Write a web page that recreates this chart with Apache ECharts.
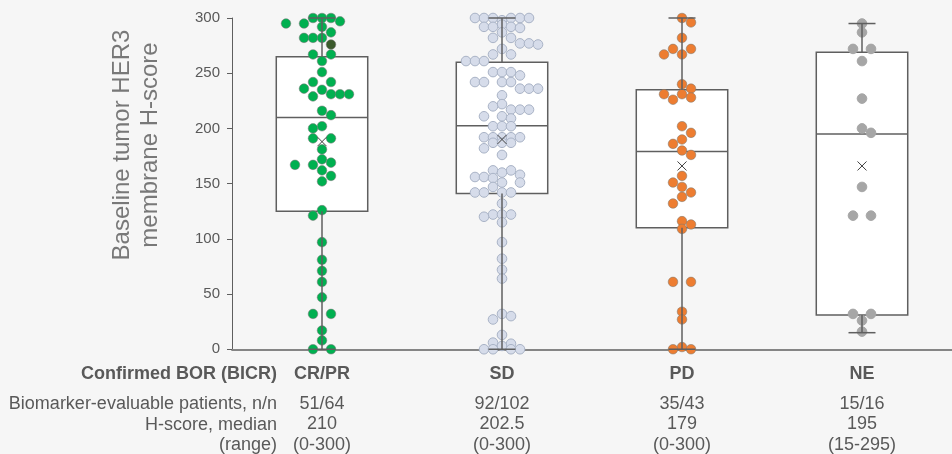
<!DOCTYPE html>
<html><head><meta charset="utf-8">
<script src="https://cdn.jsdelivr.net/npm/echarts@6/dist/echarts.min.js"></script>
<style>html,body{margin:0;padding:0;background:#f6f6f6}#c{width:952px;height:454px}</style>
</head><body><div id="c"></div>
<script>
// ---------------- data ----------------
const categories = ['CR/PR', 'SD', 'PD', 'NE'];
const rowHeaders = ['Confirmed BOR (BICR)', 'Biomarker-evaluable patients, n/n', 'H-score, median', '(range)'];
const evaluable = ['51/64', '92/102', '35/43', '15/16'];
const medianText = ['210', '202.5', '179', '195'];
const rangeText = ['(0-300)', '(0-300)', '(0-300)', '(15-295)'];
const yTicks = [0, 50, 100, 150, 200, 250, 300];
// [min, Q1, median, Q3, max]
const boxCRPR = [0, 125, 210, 265, 300];
const boxSD = [0, 141, 202.5, 260, 300];
const boxPD = [0, 110, 179, 235, 300];
const boxNE = [15, 31, 195, 269, 295];
const means = [188, 190, 166, 166];

const crprValues = [300,300,300,297,295,295,292,287,282,282,282,276,267,267,261,251,242,242,236,235,231,231,231,229,216,212,202,200,191,191,181,172,169,167,167,162,157,152,126,121,97,81,71,61,47,32,32,17,8,0,0];
const crprHighlight = [276];
const sdValues = [300,300,300,300,300,300,298,294,292,292,292,291,287,282,282,277,277,276,272,267,267,261,261,261,251,251,251,248,242,242,242,242,236,236,236,230,222,220,217,217,217,211,211,209,202,202,202,192,192,192,192,192,187,187,187,182,176,162,162,160,158,156,156,155,151,151,147,142,142,142,142,132,122,122,122,120,115,97,82,72,64,32,30,27,13,6,5,3,0,0,0,0];
const pdValues = [300,296,282,272,272,267,267,240,236,231,231,228,226,202,196,190,186,180,176,157,151,147,142,138,132,116,113,109,61,61,34,27,2,0,0];
const neValues = [295,287,272,272,261,227,200,196,147,121,121,32,32,26,16];

// ---------------- styling ----------------
const FONT = "'Liberation Sans', Arial, sans-serif";
const TXT = '#595959';
const LINE = '#5f5f5f';
const fills = ['#00b050', '#d6dcea', '#ed7d31', '#a6a6a6'];
const strokes = ['rgba(120,120,120,0.55)', '#a9b3c6', 'rgba(130,120,110,0.55)', '#a6a6a6'];
const highlightFill = '#3b5a2c';
const SLOT = 9, R = 4.8;

const boxes = [boxCRPR, boxSD, boxPD, boxNE];
const groups = [crprValues, sdValues, pdValues, neValues];

const chart = echarts.init(document.getElementById('c'));

function boxRender(params, api) {
  const i = api.value(0);
  const band = api.size([1, 0])[0];
  const hw = band * 0.254;
  const c = v => api.coord([i, v]);
  const cx = c(api.value(3))[0];
  const yq1 = c(api.value(2))[1], yq3 = c(api.value(4))[1], ym = c(api.value(3))[1];
  return { type: 'group', children: [
    { type: 'rect', shape: { x: cx - hw, y: yq3, width: 2 * hw, height: yq1 - yq3 },
      style: { fill: '#ffffff', stroke: LINE, lineWidth: 1.5 } },
    { type: 'line', shape: { x1: cx - hw, y1: ym, x2: cx + hw, y2: ym },
      style: { stroke: LINE, lineWidth: 1.5 } }
  ]};
}
function whiskerRender(params, api) {
  const i = api.value(0);
  const band = api.size([1, 0])[0];
  const cap = band * 0.075;
  const c = v => api.coord([i, v]);
  const cx = c(api.value(3))[0];
  const ymin = c(api.value(1))[1], yq1 = c(api.value(2))[1], yq3 = c(api.value(4))[1], ymax = c(api.value(5))[1];
  const ymean = c(api.value(6))[1];
  const s = { stroke: LINE, lineWidth: 1.5 };
  const xs = 4.5;
  return { type: 'group', children: [
    { type: 'line', shape: { x1: cx, y1: yq3, x2: cx, y2: ymax }, style: s },
    { type: 'line', shape: { x1: cx - cap, y1: ymax, x2: cx + cap, y2: ymax }, style: s },
    { type: 'line', shape: { x1: cx, y1: yq1, x2: cx, y2: ymin }, style: s },
    { type: 'line', shape: { x1: cx - cap, y1: ymin, x2: cx + cap, y2: ymin }, style: s },
    { type: 'line', shape: { x1: cx - xs, y1: ymean - xs, x2: cx + xs, y2: ymean + xs }, style: { stroke: '#404040', lineWidth: 1 } },
    { type: 'line', shape: { x1: cx - xs, y1: ymean + xs, x2: cx + xs, y2: ymean - xs }, style: { stroke: '#404040', lineWidth: 1 } }
  ]};
}
function pointRender(params, api) {
  const g = api.value(0);
  const p = api.coord([g, api.value(1)]);
  const hl = api.value(3);
  return { type: 'circle', shape: { cx: p[0] + api.value(2) * SLOT, cy: p[1], r: R },
    style: { fill: hl ? highlightFill : fills[g], stroke: strokes[g], lineWidth: 1 } };
}

const boxData = boxes.map((b, i) => [i].concat(b).concat([means[i]]));

const option = {
  backgroundColor: '#f6f6f6',
  animation: false,
  grid: { left: 232, right: -6, top: 18, bottom: 104 },
  xAxis: {
    type: 'category', data: categories, boundaryGap: true,
    axisLine: { lineStyle: { color: '#858585', width: 1.8 } },
    axisTick: { alignWithLabel: true, length: 4, lineStyle: { color: LINE } },
    axisLabel: {
      margin: 4.5, interval: 0,
      formatter: (v, i) => `{b|${v}}\n{v|${evaluable[i]}}\n{v|${medianText[i]}}\n{v|${rangeText[i]}}`,
      rich: {
        b: { fontFamily: FONT, fontWeight: 'bold', fontSize: 18, lineHeight: 40, color: TXT },
        v: { fontFamily: FONT, fontSize: 18, lineHeight: 20.5, color: TXT }
      }
    },
    splitLine: { show: false }
  },
  yAxis: {
    type: 'value', min: yTicks[0], max: yTicks[yTicks.length - 1], interval: yTicks[1] - yTicks[0],
    axisLine: { show: true, lineStyle: { color: LINE, width: 1 } },
    axisTick: { show: true, length: 5, lineStyle: { color: LINE } },
    axisLabel: { margin: 12, fontSize: 15, color: TXT, fontFamily: FONT },
    splitLine: { show: false }
  },
  graphic: [
    { type: 'text', x: 136, y: 145, rotation: Math.PI / 2,
      style: { text: 'Baseline tumor HER3\nmembrane H-score', font: '24px ' + FONT, fill: '#787878',
               align: 'center', verticalAlign: 'middle', lineHeight: 28 } },
    { type: 'text', x: 277, y: 374.5, style: { text: rowHeaders[0], font: 'bold 18px ' + FONT, fill: TXT, align: 'right', verticalAlign: 'middle' } },
    { type: 'text', x: 277, y: 404.5, style: { text: rowHeaders[1], font: '18px ' + FONT, fill: TXT, align: 'right', verticalAlign: 'middle' } },
    { type: 'text', x: 277, y: 425, style: { text: rowHeaders[2], font: '18px ' + FONT, fill: TXT, align: 'right', verticalAlign: 'middle' } },
    { type: 'text', x: 277, y: 445.5, style: { text: rowHeaders[3], font: '18px ' + FONT, fill: TXT, align: 'right', verticalAlign: 'middle' } }
  ],
  series: [
    { id: 'box', type: 'custom', renderItem: boxRender, data: boxData, encode: { x: 0, y: [1, 2, 3, 4, 5] }, z: 2 },
    { id: 'pts', type: 'custom', renderItem: pointRender, data: [], encode: { x: 0, y: 1 }, z: 3 },
    { id: 'wh', type: 'custom', renderItem: whiskerRender, data: boxData, encode: { x: 0, y: [1, 5] }, z: 4 }
  ]
};
chart.setOption(option);

// beeswarm layout computed from values
const ppu = (chart.convertToPixel({ yAxisIndex: 0 }, 0) - chart.convertToPixel({ yAxisIndex: 0 }, 100)) / 100;
function swarmSlots(values) {
  const order = values.map((v, i) => i).sort((a, b) => values[b] - values[a]);
  const slots = new Array(values.length).fill(0);
  const placed = [];
  const rowTol = 1.5, minGap = 2 * R * 0.72;
  let k = 0, flip = 1;
  while (k < order.length) {
    const row = [order[k]];
    let j = k + 1;
    while (j < order.length && (values[order[k]] - values[order[j]]) * ppu <= rowTol) { row.push(order[j]); j++; }
    const n = row.length, base = [];
    if (n % 2) { for (let s = -(n - 1) / 2; s <= (n - 1) / 2; s++) base.push(s); }
    else { for (let s = -n / 2; s < 0; s++) base.push(s); for (let s = 1; s <= n / 2; s++) base.push(s); }
    let chosen = base;
    const shifts = [0, flip, -flip, 2 * flip, -2 * flip, 3 * flip, -3 * flip];
    for (const sh of shifts) {
      const cand = base.map(s => s + sh);
      const ok = row.every((idx, m) => placed.every(p => p.slot !== cand[m] || Math.abs(p.y - values[idx] * ppu) >= minGap));
      if (ok) { chosen = cand; if (sh !== 0) flip = -flip; break; }
    }
    row.forEach((idx, m) => { slots[idx] = chosen[m]; placed.push({ y: values[idx] * ppu, slot: chosen[m] }); });
    k = j;
  }
  return slots;
}
const ptData = [];
groups.forEach((vals, g) => {
  const slots = swarmSlots(vals);
  const hlLeft = g === 0 ? crprHighlight.slice() : [];
  vals.forEach((v, i) => {
    let hl = 0;
    const h = hlLeft.indexOf(v);
    if (h >= 0) { hl = 1; hlLeft.splice(h, 1); }
    ptData.push([g, v, slots[i], hl]);
  });
});
chart.setOption({ series: [{ id: 'pts', data: ptData }] });
</script>
</body></html>
